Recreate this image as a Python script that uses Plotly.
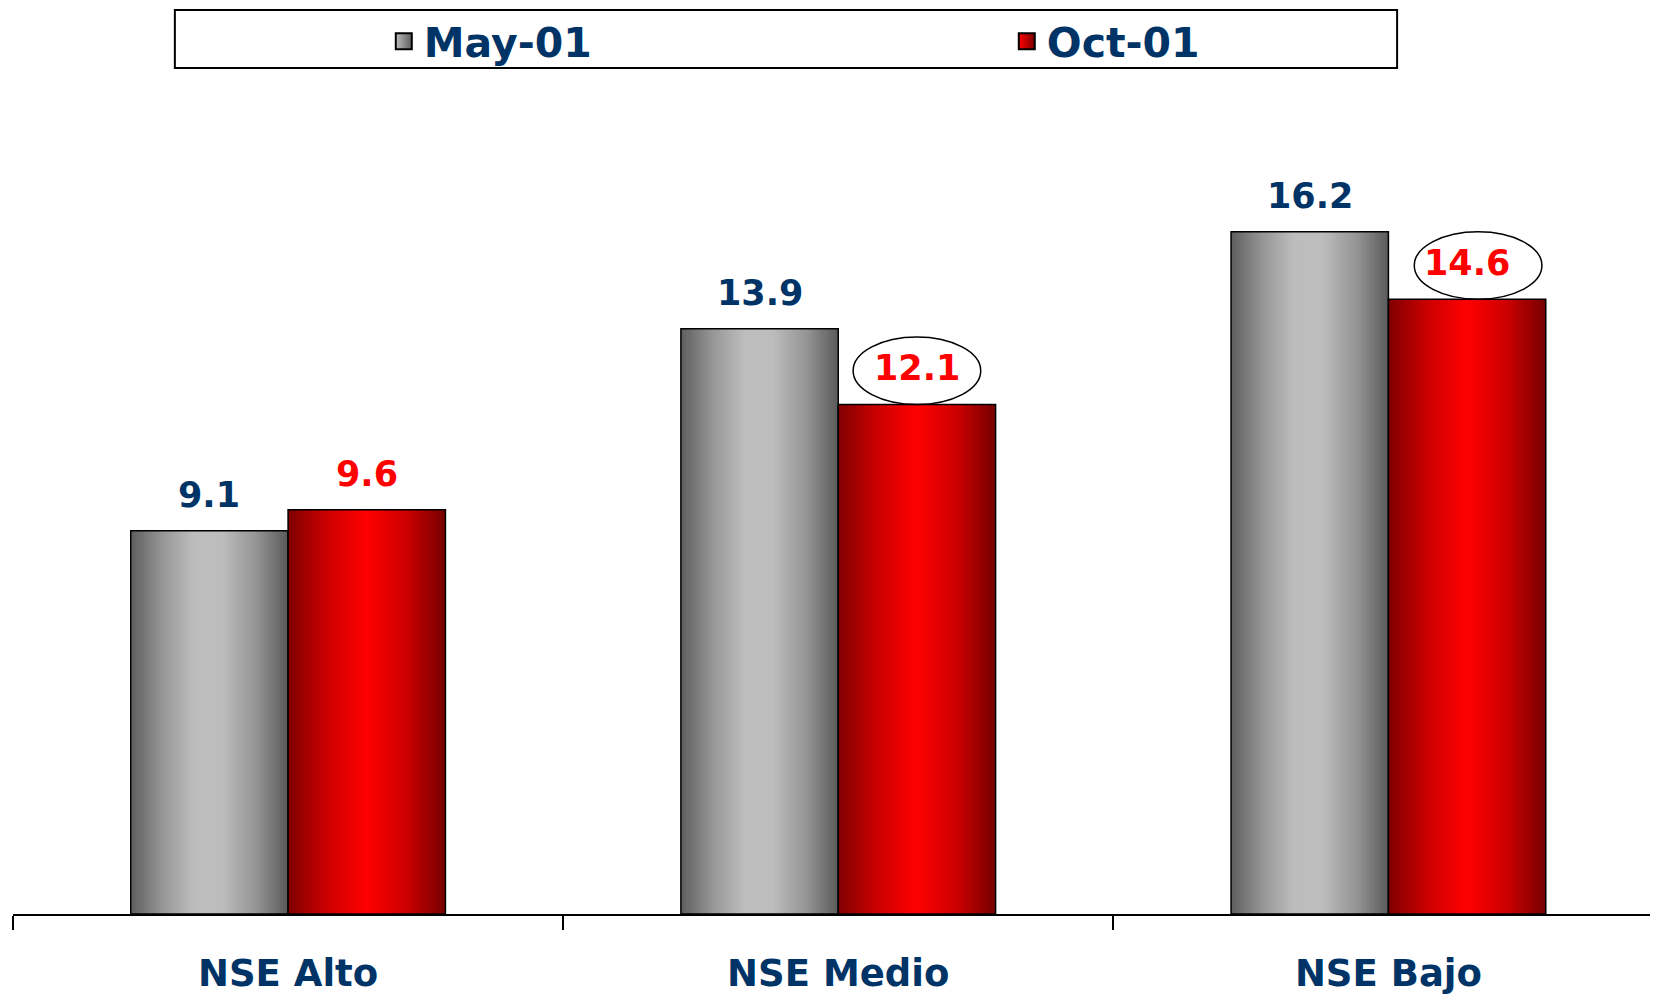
import plotly.graph_objects as go

# ---- data ----
categories = ["NSE Alto", "NSE Medio", "NSE Bajo"]
may_values = [9.1, 13.9, 16.2]
oct_values = [9.6, 12.1, 14.6]
series_names = ["May-01", "Oct-01"]
oct_circled = [False, True, True]

# ---- style ----
NAVY = "#003366"
RED = "#ff0000"
FONT = "DejaVu Sans, Verdana, sans-serif"
BW = 0.286          # bar width in category units
NSL = 60            # gradient slices per bar
gray_stops = [(0.0, (94, 94, 94)), (0.2, (150, 150, 150)), (0.4, (189, 189, 189)),
              (0.58, (189, 189, 189)), (0.8, (148, 148, 148)), (1.0, (90, 90, 90))]
red_stops = [(0.0, (128, 0, 0)), (0.25, (205, 0, 0)), (0.5, (255, 0, 0)),
             (0.75, (205, 0, 0)), (1.0, (118, 0, 0))]


def grad(stops, t):
    for (t0, c0), (t1, c1) in zip(stops[:-1], stops[1:]):
        if t0 <= t <= t1:
            f = 0 if t1 == t0 else (t - t0) / (t1 - t0)
            c = [round(a + (b - a) * f) for a, b in zip(c0, c1)]
            return f"rgb({c[0]},{c[1]},{c[2]})"
    c = stops[-1][1]
    return f"rgb({c[0]},{c[1]},{c[2]})"


fig = go.Figure()
step = BW / NSL
for vals, base, stops in [(may_values, -BW, gray_stops), (oct_values, 0.0, red_stops)]:
    for k in range(NSL):
        w = min(step * 1.8, BW - k * step)
        fig.add_trace(go.Bar(
            x=categories, y=vals, offset=base + k * step, width=w,
            marker=dict(color=grad(stops, (k + 0.5) / NSL), line=dict(width=0)),
            showlegend=False, hoverinfo="skip"))
    fig.add_trace(go.Bar(
        x=categories, y=vals, offset=base, width=BW,
        marker=dict(color="rgba(0,0,0,0)", line=dict(color="black", width=1.5)),
        showlegend=False, hoverinfo="skip"))

# legend entries
for name, c1, c2 in [(series_names[0], "#bdbdbd", "#5e5e5e"), (series_names[1], "#ff0000", "#7a0000")]:
    fig.add_trace(go.Scatter(
        x=[None], y=[None], mode="markers", name=name,
        marker=dict(symbol="square", size=16, color=c1,
                    gradient=dict(type="horizontal", color=c2),
                    line=dict(color="black", width=2))))

# data labels
annotations = []
shapes = []
for i, (m, o) in enumerate(zip(may_values, oct_values)):
    annotations.append(dict(x=i - BW / 2, y=m, xref="x", yref="y", text=f"{m:.1f}",
                            showarrow=False, yanchor="middle", yshift=36,
                            font=dict(family=FONT, size=35, color=NAVY, weight="bold")))
    annotations.append(dict(x=i + BW / 2, y=o, xref="x", yref="y", text=f"{o:.1f}",
                            showarrow=False, yanchor="middle", yshift=36,
                            font=dict(family=FONT, size=35, color=RED, weight="bold")))
    if oct_circled[i]:
        xc = i + BW / 2 + (0.02 if i == 2 else 0.0)
        shapes.append(dict(type="circle", xref="x", yref="y",
                           x0=xc - 0.116, x1=xc + 0.116, y0=o, y1=o + 1.6,
                           line=dict(color="black", width=1.5), fillcolor="rgba(0,0,0,0)"))

# legend frame
shapes.append(dict(type="rect", xref="paper", yref="paper",
                   x0=0.0984, x1=0.8414, y0=1.0393, y1=1.1106,
                   line=dict(color="black", width=2), fillcolor="rgba(0,0,0,0)"))

fig.update_layout(
    width=1650, height=986,
    margin=dict(l=5, r=0, t=92, b=80),
    paper_bgcolor="white", plot_bgcolor="white",
    barmode="overlay",
    showlegend=True,
    legend=dict(orientation="h", x=0.2254, xanchor="left", y=1.072, yanchor="middle",
                entrywidth=578, entrywidthmode="pixels",
                font=dict(family=FONT, size=41, color=NAVY, weight="bold"),
                bgcolor="rgba(0,0,0,0)", borderwidth=0, itemclick=False),
    xaxis=dict(type="category", range=[-0.5, 2.49], tickson="boundaries",
               ticks="outside", ticklen=14, tickwidth=1.5, tickcolor="black",
               showline=True, linecolor="black", linewidth=2, showgrid=False,
               ticklabelstandoff=26, automargin=False,
               tickfont=dict(family=FONT, size=37, color=NAVY, weight="bold")),
    yaxis=dict(range=[0, 19.33], visible=False, showgrid=False, zeroline=False),
    annotations=annotations,
    shapes=shapes,
)

fig.write_html("out.html")
